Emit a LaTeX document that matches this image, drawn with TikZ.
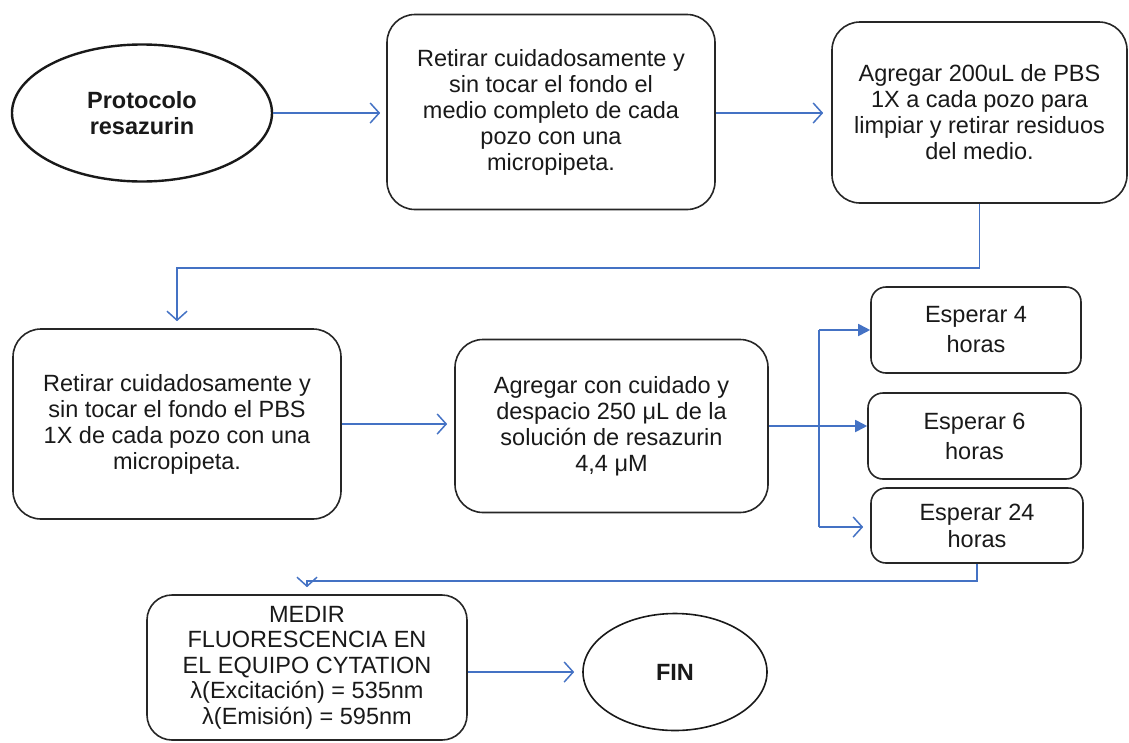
\documentclass[tikz,border=0pt]{standalone}
\usepackage{fontspec}
\setmainfont{Liberation Sans}
\usetikzlibrary{arrows.meta,shapes.geometric}
\definecolor{arrowblue}{RGB}{68,114,196}
\begin{document}
\begin{tikzpicture}[x=1pt,y=-1pt,
  txt/.style={font=\fontsize{23.5}{26}\selectfont, text=black!90, align=center},
  stepbox/.style={txt, draw=black!85, line width=1.6pt, rounded corners=28pt, inner sep=0pt, shape=rectangle},
  waitbox/.style={stepbox, rounded corners=15pt},
  oval/.style={txt, draw=black!90, shape=ellipse, inner sep=0pt},
  conn/.style={draw=arrowblue, line width=1.8pt},
  openarr/.style={conn, -{Straight Barb[length=9pt,width=20pt,line width=1.5pt]}},
  fillarr/.style={conn, -{Triangle[length=12pt,width=12pt]}}
]
\useasboundingbox (0,0) rectangle (1129,742);

\node[oval, line width=2.4pt, minimum width=260pt, minimum height=137pt, font=\fontsize{23.5}{26}\selectfont\bfseries] (p1) at (142,113) {Protocolo\\resazurin};
\node[stepbox, minimum width=328pt, minimum height=195pt] (b2) at (551,112) {Retirar cuidadosamente y\\sin tocar el fondo el\\medio completo de cada\\pozo con una\\micropipeta.};
\node[stepbox, minimum width=295pt, minimum height=181pt] (b3) at (979.5,112.5) {Agregar 200uL de PBS\\1X a cada pozo para\\limpiar y retirar residuos\\del medio.};
\node[stepbox, minimum width=328pt, minimum height=190pt] (b4) at (177,424) {Retirar cuidadosamente y\\sin tocar el fondo el PBS\\1X de cada pozo con una\\micropipeta.};
\node[stepbox, minimum width=313pt, minimum height=173pt] (b5) at (611.5,426) {Agregar con cuidado y\\despacio 250 μL de la\\solución de resazurin\\4,4 μM};
\node[waitbox, minimum width=210pt, minimum height=86pt, font=\fontsize{23.5}{30}\selectfont] (e4) at (976,330) {Esperar 4\\horas};
\node[waitbox, minimum width=213pt, minimum height=86pt, font=\fontsize{23.5}{30}\selectfont] (e6) at (974.5,436) {Esperar 6\\horas};
\node[waitbox, minimum width=212pt, minimum height=75pt, font=\fontsize{23.5}{27}\selectfont] (e24) at (977,525.5) {Esperar 24\\horas};
\node[stepbox, rounded corners=25pt, minimum width=320pt, minimum height=145pt, font=\fontsize{23.5}{25.5}\selectfont] (m) at (307,667.5) {MEDIR\\FLUORESCENCIA EN\\EL EQUIPO CYTATION\\λ(Excitación) = 535nm\\λ(Emisión) = 595nm};
\node[oval, line width=1.6pt, minimum width=184pt, minimum height=117pt, font=\fontsize{23.5}{26}\selectfont\bfseries] (fin) at (675,672) {FIN};

\coordinate (t4) at (819,330);
\coordinate (t6) at (819,426);
\coordinate (t24) at (819,527);

\draw[openarr, shorten >=6pt] (p1.east) -- (p1.east -| b2.west);
\draw[openarr, shorten >=8pt] (p1.east -| b2.east) -- (p1.east -| b3.west);
\draw[openarr, shorten >=7pt] (b3.south) -- ++(0,64) -| (b4.north);
\draw[openarr, shorten >=7pt] (b4.east) -- (b4.east -| b5.west);
\draw[conn] (b5.east) -- (b5.east -| t6);
\draw[conn] (t4) -- (t24);
\draw[fillarr] (t4) -- (t4 -| e4.west);
\draw[fillarr] (t6) -- (t6 -| e6.west);
\draw[openarr, shorten >=7pt] (t24) -- (t24 -| e24.west);
\draw[openarr, shorten >=7pt] (e24.south) -- ++(0,17) -| (m.north);
\draw[openarr, shorten >=8pt] (m.east |- fin.west) -- (fin.west);
\end{tikzpicture}
\end{document}
